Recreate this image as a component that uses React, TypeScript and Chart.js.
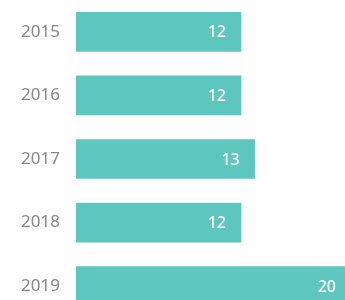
import React, { useEffect, useRef } from "react";
import { Chart, registerables } from "chart.js";

Chart.register(...registerables);

const years = ["2015", "2016", "2017", "2018", "2019"];
const values = [12, 12, 13, 12, 20];

const BAR_COLOR = "#5cc6bf";
const TICK_COLOR = "#878787";

const valueLabels = {
  id: "valueLabels",
  afterDatasetsDraw(chart: any) {
    const ctx = chart.ctx;
    const meta = chart.getDatasetMeta(0);
    ctx.save();
    ctx.fillStyle = "#ffffff";
    ctx.font = "500 16px 'Noto Sans', sans-serif";
    ctx.textAlign = "right";
    ctx.textBaseline = "middle";
    meta.data.forEach((bar: any, i: number) => {
      const x = Math.min(bar.x, chart.chartArea.right + 5) - 15;
      ctx.fillText(String(values[i]), x, bar.y + 1);
    });
    ctx.restore();
  },
};

export default function App() {
  const ref = useRef<HTMLCanvasElement | null>(null);
  useEffect(() => {
    if (!ref.current) return;
    const chart = new Chart(ref.current, {
      type: "bar",
      data: {
        labels: years,
        datasets: [
          {
            data: values,
            backgroundColor: BAR_COLOR,
            borderWidth: 0,
            barThickness: 39,
          },
        ],
      },
      options: {
        indexAxis: "y",
        animation: false,
        responsive: false,
        maintainAspectRatio: false,
        layout: { padding: 0 },
        plugins: { legend: { display: false }, tooltip: { enabled: false } },
        scales: {
          x: {
            display: false,
            min: 0,
            max: 20,
          },
          y: {
            grid: { display: false, drawTicks: false },
            border: { display: false },
            ticks: {
              padding: 16,
              color: TICK_COLOR,
              font: { family: "'Noto Sans', sans-serif", size: 17 },
            },
            afterFit: (s: any) => {
              s.width = 76;
              s.paddingTop = 0;
              s.paddingBottom = 0;
            },
          },
        },
      },
      plugins: [valueLabels],
    });
    return () => chart.destroy();
  }, []);
  return (
    <div style={{ position: "fixed", left: 0, top: 0, width: 351, height: 318 }}>
      <canvas ref={ref} width={351} height={318} style={{ width: 351, height: 318 }} />
    </div>
  );
}
